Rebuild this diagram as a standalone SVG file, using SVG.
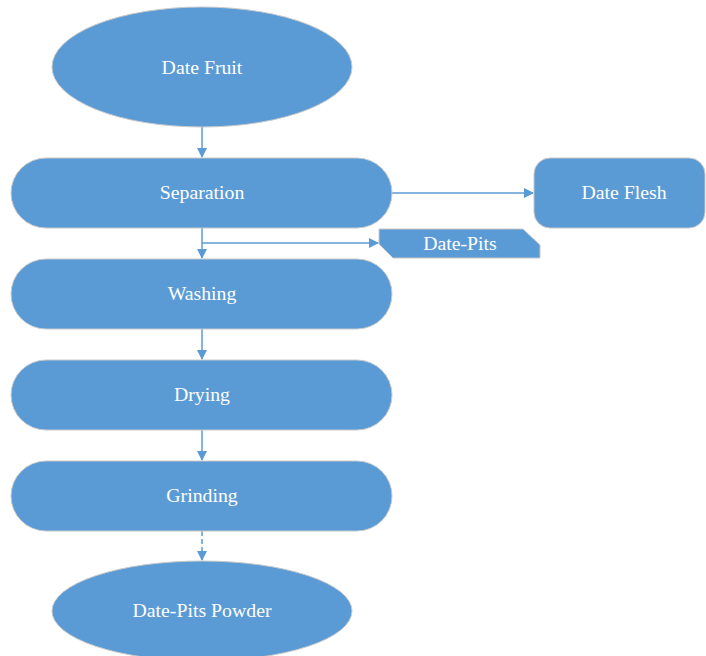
<svg xmlns="http://www.w3.org/2000/svg" width="706" height="656" viewBox="0 0 706 656">
<style>
.n{fill:#5B9BD5;stroke:#c8c8c8;stroke-width:1}
.t{font-family:"Liberation Serif","Times New Roman",serif;font-size:19.8px;fill:#ffffff;text-anchor:middle}
.c{stroke:#5B9BD5;stroke-width:1.5;fill:none}
</style>
<defs>
<marker id="a" markerWidth="10" markerHeight="10" refX="9" refY="5" orient="auto" markerUnits="userSpaceOnUse"><path d="M0,0 L10,5 L0,10 z" fill="#5B9BD5"/></marker>
</defs>
<rect width="706" height="656" fill="#ffffff"/>
<g id="connectors">
<path class="c" d="M202,127 V157" marker-end="url(#a)"/>
<path class="c" d="M392,193 H533" marker-end="url(#a)"/>
<path class="c" d="M202,228 V258" marker-end="url(#a)"/>
<path class="c" d="M202,243 H378" marker-end="url(#a)"/>
<path class="c" d="M202,329 V359" marker-end="url(#a)"/>
<path class="c" d="M202,430 V460" marker-end="url(#a)"/>
<path class="c" d="M202,531 V560" stroke-dasharray="5,3" marker-end="url(#a)"/>
</g>
<g id="date-fruit"><ellipse class="n" cx="202" cy="67" rx="150" ry="60"/><text class="t" x="202" y="74">Date Fruit</text></g>
<g id="separation"><rect class="n" x="11" y="158" width="381" height="70" rx="35"/><text class="t" x="202" y="199">Separation</text></g>
<g id="date-flesh"><rect class="n" x="534" y="158" width="171" height="70" rx="16"/><text class="t" x="624" y="199">Date Flesh</text></g>
<g id="date-pits"><polygon class="n" points="379,229 523,229 540,245 540,258 393,258 379,244"/><text class="t" x="460" y="250">Date-Pits</text></g>
<g id="washing"><rect class="n" x="11" y="259" width="381" height="70" rx="35"/><text class="t" x="202" y="300">Washing</text></g>
<g id="drying"><rect class="n" x="11" y="360" width="381" height="70" rx="35"/><text class="t" x="202" y="401">Drying</text></g>
<g id="grinding"><rect class="n" x="11" y="461" width="381" height="70" rx="35"/><text class="t" x="202" y="502">Grinding</text></g>
<g id="date-pits-powder"><ellipse class="n" cx="202" cy="611" rx="150" ry="50"/><text class="t" x="202" y="617">Date-Pits Powder</text></g>
</svg>
